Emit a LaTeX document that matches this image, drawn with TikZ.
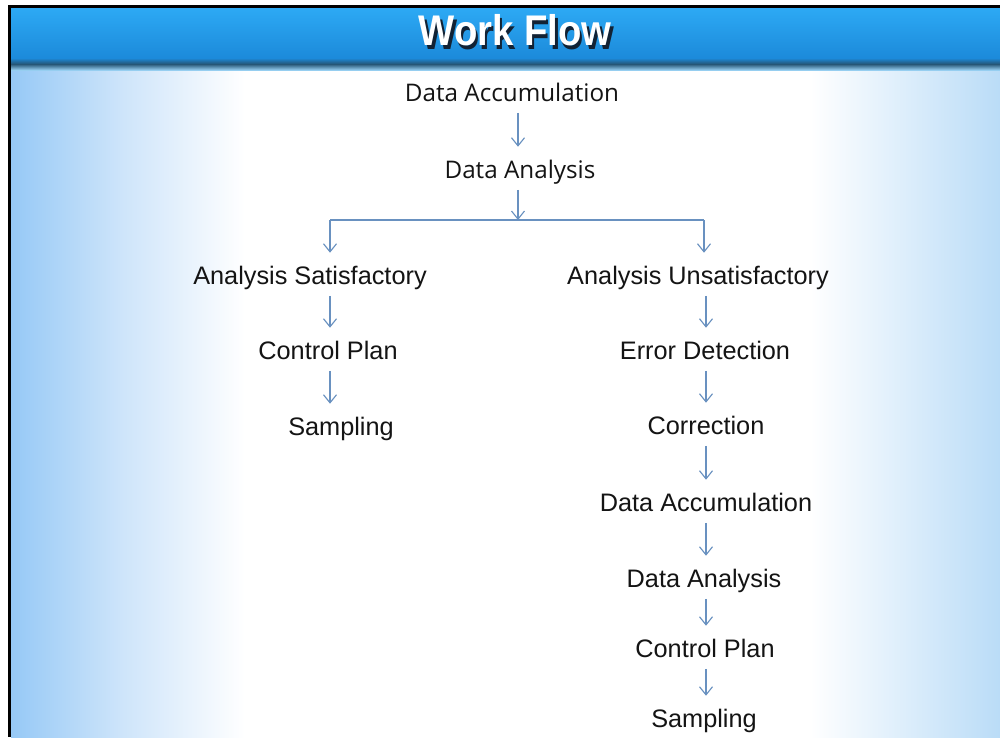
\documentclass[tikz,border=0pt]{standalone}
\usepackage{fontspec}
\setmainfont{Liberation Sans}
\newfontfamily\headfont{Open Sans}
\usetikzlibrary{arrows.meta,calc}

\definecolor{bartop}{RGB}{45,170,245}
\definecolor{barlow}{RGB}{28,138,218}
\definecolor{banddark}{RGB}{38,86,118}
\definecolor{bandlight}{RGB}{150,206,240}
\definecolor{edgeleft}{RGB}{150,201,246}
\definecolor{edgemid}{RGB}{205,228,250}
\definecolor{edgeright}{RGB}{186,220,247}
\definecolor{arrowblue}{RGB}{105,145,192}
\definecolor{inkblack}{RGB}{20,20,20}
\definecolor{shadowdark}{RGB}{18,34,52}

\tikzset{
  lbl/.style={inner sep=0pt, text height=10.2pt, text depth=0pt, anchor=base,
              font=\fontsize{14.4pt}{16pt}\selectfont, text=inkblack},
  headlbl/.style={lbl, font=\headfont\fontsize{13.8pt}{16pt}\selectfont},
  flow/.style={draw=arrowblue, line width=0.65pt,
               -{Straight Barb[length=4.6pt,width=7.4pt,line width=0.65pt]}},
  link/.style={draw=arrowblue, line width=0.65pt},
  gapstart/.style={shorten <=6.6pt},
  gapend/.style={shorten >=7.4pt},
}

\begin{document}
\begin{tikzpicture}[x=0.02cm,y=-0.02cm]
  \useasboundingbox (0,0) rectangle (1000,737);
  \fill[white] (0,0) rectangle (1000,737);

  % body background: blue at both sides, white in the middle
  \fill[white] (11,68) rectangle (1000,737);
  \shade[left color=edgeleft, right color=edgemid] (11,68) rectangle (120,737);
  \shade[left color=edgemid, right color=white] (120,68) rectangle (245,737);
  \shade[left color=white, right color=edgeright] (810,68) rectangle (1000,737);

  % title bar
  \shade[top color=bartop, bottom color=barlow] (11,7) rectangle (1000,58);
  \shade[top color=barlow, bottom color=banddark] (11,58) rectangle (1000,64);
  \shade[top color=banddark, bottom color=bandlight] (11,64) rectangle (1000,70);

  % frame lines
  \fill[black] (8,5) rectangle (1000,8);
  \fill[black] (8,5) rectangle (11,737);

  % title with a drop shadow set behind the white letters
  \node[font=\bfseries\fontsize{21.8pt}{24pt}\selectfont, text=white,
        inner sep=0pt, yscale=1.12] (title) at (515,32)
        {\rlap{\hspace{1.4pt}\raisebox{-1.8pt}{\color{shadowdark}Work Flow}}Work Flow};

  % column guides
  \coordinate (colM) at (518,0);
  \coordinate (colL) at (330,0);
  \coordinate (colR) at (706,0);

  % trunk
  \node[headlbl] (acc1) at (512,101) {Data Accumulation};
  \node[headlbl] (ana1) at (520,178) {Data Analysis};
  \coordinate (split) at (518,220);
  \coordinate (splitL) at (330,220);
  \coordinate (splitR) at (704,220);

  % satisfactory branch
  \node[lbl] (sat) at (310,284) {Analysis Satisfactory};
  \node[lbl] (plan1) at (328,359) {Control Plan};
  \node[lbl] (samp1) at (341,435) {Sampling};

  % unsatisfactory branch
  \node[lbl] (unsat) at (698,284) {Analysis Unsatisfactory};
  \node[lbl] (err) at (705,359) {Error Detection};
  \node[lbl] (corr) at (706,434) {Correction};
  \node[lbl] (acc2) at (706,511) {Data Accumulation};
  \node[lbl] (ana2) at (704,587) {Data Analysis};
  \node[lbl] (plan2) at (705,657) {Control Plan};
  \node[lbl] (samp2) at (704,727) {Sampling};

  % connectors
  \draw[flow, gapstart, gapend] (acc1.south -| colM) -- (ana1.north -| colM);
  \draw[flow, gapstart] (ana1.south -| colM) -- (split);
  \draw[link] (splitL) -- (splitR);
  \draw[flow, gapend] (splitL) -- (sat.north -| splitL);
  \draw[flow, gapend] (splitR) -- (unsat.north -| splitR);

  \draw[flow, gapstart, gapend] (sat.south -| colL) -- (plan1.north -| colL);
  \draw[flow, gapstart, gapend] (plan1.south -| colL) -- (samp1.north -| colL);

  \draw[flow, gapstart, gapend] (unsat.south -| colR) -- (err.north -| colR);
  \draw[flow, gapstart, gapend] (err.south -| colR) -- (corr.north -| colR);
  \draw[flow, gapstart, gapend] (corr.south -| colR) -- (acc2.north -| colR);
  \draw[flow, gapstart, gapend] (acc2.south -| colR) -- (ana2.north -| colR);
  \draw[flow, gapstart, gapend] (ana2.south -| colR) -- (plan2.north -| colR);
  \draw[flow, gapstart, gapend] (plan2.south -| colR) -- (samp2.north -| colR);
\end{tikzpicture}
\end{document}
